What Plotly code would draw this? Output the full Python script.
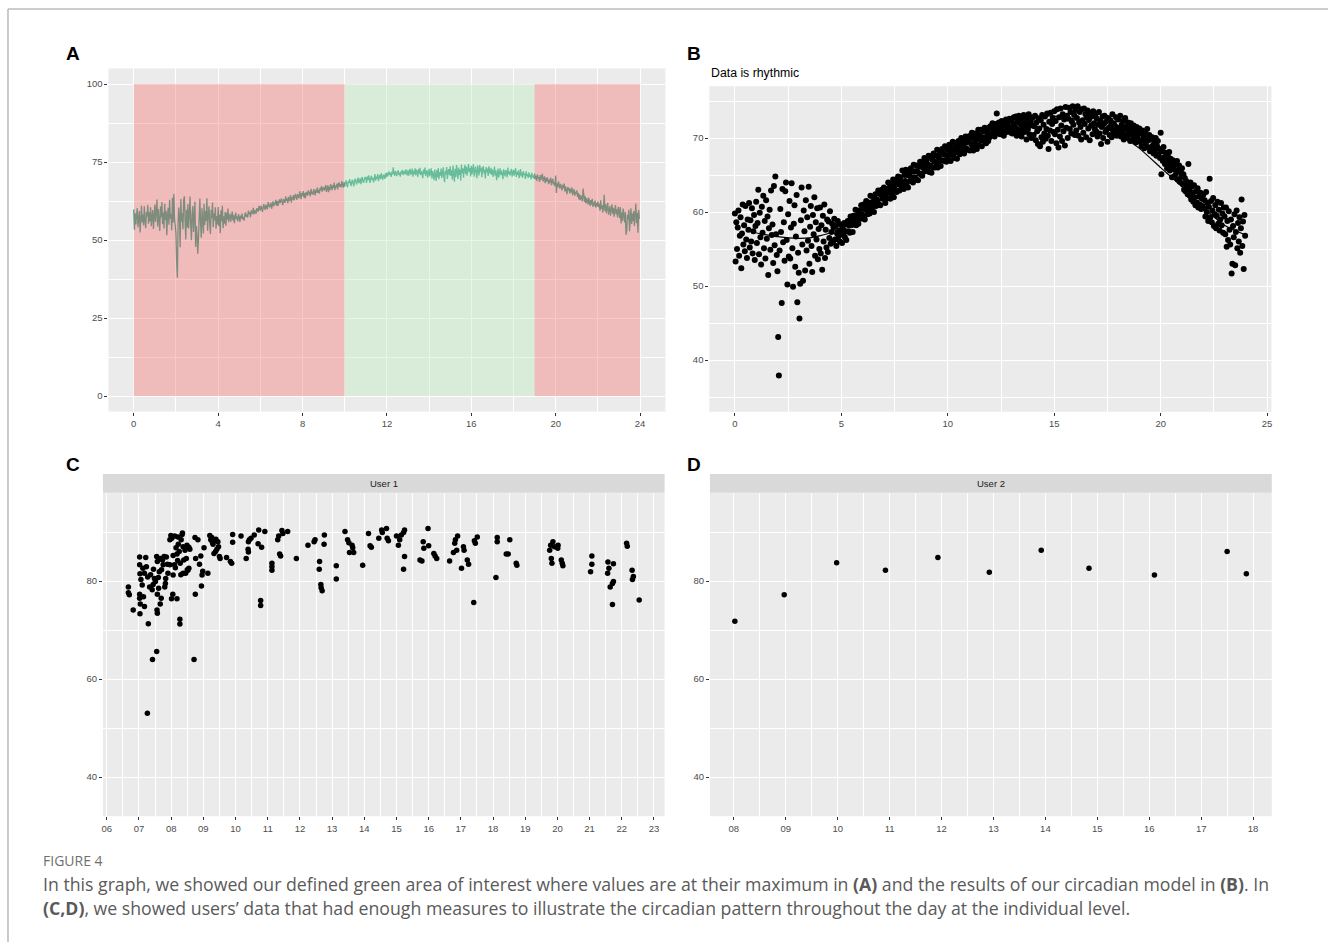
import plotly.graph_objects as go

W, H = 1329, 942

# ---------------- Panel A / B data: value over the day, one row per hour ----------------
hourly_values = [
    [59.8, 53.3, 58.6, 55.0, 57.9, 60.2, 54.1, 56.8, 59.3, 52.4, 57.1, 61.0, 55.6, 58.2, 54.7,
     60.8, 56.3, 53.8, 59.0, 57.6, 61.2, 55.2, 58.9, 56.0, 60.5, 54.4, 57.4, 59.6, 53.5, 58.1],
    [61.4, 55.8, 58.5, 63.0, 54.3, 59.9, 56.6, 52.9, 60.7, 57.2, 62.2, 55.1, 58.8, 53.7, 61.6,
     56.4, 59.4, 51.5, 57.8, 60.3, 54.9, 62.9, 56.9, 58.3, 53.1, 63.5, 55.5, 64.8, 57.0, 54.2],
    [52.0, 43.1, 37.9, 54.8, 60.4, 57.3, 47.7, 63.1, 55.9, 58.6, 53.4, 62.8, 64.0, 56.2, 50.2,
     59.7, 54.0, 61.5, 53.7, 57.9, 63.9, 55.1, 49.9, 58.4, 60.9, 52.6, 56.7, 62.3, 47.8, 54.5],
    [51.8, 45.6, 50.3, 58.9, 63.3, 55.6, 50.7, 60.2, 57.4, 52.1, 61.6, 54.8, 59.3, 56.1, 63.4,
     53.0, 58.0, 60.8, 55.4, 51.9, 59.6, 57.0, 62.0, 54.1, 58.6, 56.3, 60.5, 53.6, 57.7, 55.0],
    [60.6, 54.4, 58.2, 52.2, 59.5, 56.0, 61.0, 53.8, 57.6, 55.2, 59.0, 54.6, 58.7, 56.5, 60.1,
     55.7, 57.3, 58.4, 55.9, 57.9, 59.1, 56.3, 58.1, 55.4, 57.1, 58.8, 56.7, 57.5, 56.0, 58.3],
    [57.1, 55.8, 57.8, 56.9, 58.5, 56.6, 57.4, 56.2, 58.3, 58.8, 57.4, 58.2, 57.2, 59.4, 58.2,
     58.9, 57.3, 59.5, 58.3, 58.9, 60.3, 58.2, 59.6, 59.0, 58.4, 60.2, 59.6, 59.1, 60.9, 59.7],
    [59.4, 61.0, 60.4, 59.0, 60.8, 61.5, 60.2, 59.7, 61.3, 60.7, 59.8, 62.2, 61.3, 60.5, 61.0,
     62.0, 60.0, 61.6, 62.4, 60.8, 61.7, 61.5, 62.9, 61.0, 62.5, 60.9, 62.3, 63.0, 61.8, 62.3],
    [63.3, 62.0, 61.2, 63.1, 62.7, 61.9, 64.0, 62.6, 63.3, 61.8, 63.8, 62.5, 63.2, 64.4, 62.0,
     63.7, 63.0, 64.4, 62.7, 64.2, 64.8, 63.7, 62.9, 64.7, 64.2, 63.4, 65.6, 63.9, 63.1, 65.0],
    [64.2, 65.7, 63.6, 65.0, 63.3, 65.4, 64.9, 64.2, 65.9, 64.7, 65.5, 64.0, 66.4, 64.7, 65.5,
     64.5, 66.3, 65.5, 64.3, 66.2, 65.2, 66.8, 65.1, 66.1, 64.9, 66.7, 65.9, 67.3, 65.5, 66.6],
    [66.9, 65.8, 66.4, 67.6, 65.4, 66.3, 67.5, 65.3, 67.1, 66.0, 67.9, 66.8, 66.0, 67.6, 66.7,
     68.4, 66.0, 67.4, 66.9, 68.1, 66.2, 67.9, 68.5, 67.0, 67.9, 66.9, 68.9, 67.7, 66.8, 68.5],
    [67.1, 68.4, 69.1, 67.7, 66.9, 68.8, 68.2, 69.5, 67.7, 67.3, 68.6, 69.3, 68.1, 67.2, 69.2,
     69.6, 68.6, 67.8, 69.3, 70.0, 68.2, 68.7, 69.8, 67.9, 69.4, 70.2, 68.6, 68.4, 69.6, 70.2],
    [69.8, 68.3, 70.3, 69.2, 70.7, 68.8, 68.3, 69.9, 70.6, 69.2, 69.8, 68.5, 70.5, 71.1, 69.0,
     70.3, 69.7, 71.1, 68.9, 70.1, 70.9, 69.6, 71.4, 70.1, 69.3, 70.9, 70.6, 69.6, 71.4, 70.1],
    [71.6, 70.4, 71.2, 72.0, 70.8, 71.5, 70.2, 71.9, 71.0, 73.3, 71.4, 70.6, 72.1, 71.1, 70.5,
     71.8, 72.3, 70.9, 71.6, 70.3, 72.0, 71.3, 72.5, 70.8, 71.7, 72.2, 71.0, 72.6, 71.4, 70.7],
    [72.4, 70.6, 71.9, 72.8, 70.9, 71.5, 72.9, 70.3, 72.2, 71.1, 73.0, 70.7, 72.5, 71.8, 70.2,
     72.7, 71.3, 73.1, 70.8, 72.0, 71.6, 69.8, 72.6, 71.2, 73.2, 70.5, 71.9, 72.3, 70.0, 71.7],
    [72.8, 70.4, 71.6, 73.0, 69.7, 72.1, 70.9, 69.2, 72.6, 71.3, 68.9, 72.4, 70.1, 73.1, 69.5,
     71.8, 70.6, 72.9, 69.9, 71.2, 73.3, 70.3, 68.5, 72.2, 71.0, 73.4, 69.6, 71.9, 72.7, 70.8],
    [73.6, 70.5, 72.3, 69.3, 73.9, 71.1, 68.7, 72.8, 70.2, 74.0, 71.7, 69.6, 73.2, 70.9, 72.5,
     69.0, 74.2, 71.4, 73.0, 70.0, 72.6, 74.1, 71.2, 73.5, 70.6, 72.2, 74.3, 71.8, 73.1, 70.4],
    [73.8, 71.0, 72.7, 74.3, 70.3, 72.1, 73.5, 71.5, 69.8, 73.9, 72.4, 70.7, 74.0, 71.9, 73.2,
     70.1, 72.8, 73.7, 71.3, 72.5, 69.7, 73.4, 71.7, 72.9, 70.5, 73.6, 72.0, 71.2, 73.1, 70.9],
    [72.6, 70.2, 71.8, 73.5, 70.6, 72.3, 69.2, 71.5, 72.9, 70.0, 71.9, 73.0, 70.8, 72.2, 71.1,
     69.5, 72.7, 71.4, 70.4, 72.4, 71.7, 70.1, 73.2, 71.0, 72.0, 70.7, 71.6, 72.8, 70.3, 71.3],
    [72.5, 70.6, 71.4, 73.0, 70.2, 71.8, 70.9, 72.3, 69.8, 71.2, 72.7, 70.4, 71.6, 70.0, 72.1,
     70.8, 71.3, 69.6, 72.0, 70.5, 71.1, 69.9, 71.7, 70.3, 70.9, 69.4, 71.5, 70.1, 70.7, 69.7],
    [71.3, 69.5, 70.6, 68.9, 71.0, 69.8, 70.2, 68.6, 70.8, 69.3, 70.0, 71.2, 68.8, 69.7, 70.4,
     68.2, 69.9, 68.7, 70.1, 69.0, 67.9, 69.4, 68.4, 70.0, 67.6, 68.9, 69.6, 67.8, 68.5, 67.3],
    [70.7, 65.1, 68.2, 66.9, 68.8, 67.4, 66.5, 68.0, 67.0, 65.9, 67.7, 66.6, 68.1, 65.6, 67.2,
     66.2, 64.7, 67.0, 65.8, 66.7, 64.9, 66.4, 65.3, 66.9, 64.4, 65.7, 66.3, 64.1, 65.5, 64.8],
    [65.9, 63.8, 65.1, 63.0, 64.6, 62.8, 64.2, 63.5, 62.4, 66.5, 63.1, 62.2, 64.0, 61.7, 63.4,
     62.6, 61.4, 63.6, 62.0, 60.9, 62.8, 61.3, 63.2, 60.6, 62.1, 61.0, 62.6, 60.4, 61.8, 60.8],
    [62.3, 60.5, 61.6, 59.4, 62.7, 60.0, 61.2, 58.8, 60.7, 64.5, 59.3, 61.5, 58.6, 60.2, 61.9,
     58.1, 59.7, 60.9, 57.8, 59.5, 61.4, 58.4, 60.3, 57.5, 59.0, 61.2, 58.2, 59.8, 57.2, 60.6],
    [59.4, 57.0, 60.6, 55.3, 58.8, 56.2, 60.1, 57.6, 55.6, 59.0, 51.7, 53.0, 58.1, 56.6, 59.7,
     52.8, 57.3, 60.2, 55.1, 58.5, 56.0, 59.3, 54.5, 57.8, 61.7, 55.4, 58.7, 52.3, 59.6, 56.8],
]

# Panel A zones (hour boundaries)
zone_red_1 = [0, 10]
zone_green = [10, 19]
zone_red_2 = [19, 24]
zone_y = [0, 100]

# Panel B fitted circadian curve
fit_hours = [0.8, 1.5, 2.5, 3.5, 4.5, 5.0, 6.0, 7.0, 8.5, 10.0, 11.5, 13.0, 14.0, 15.3,
             16.5, 17.5, 18.3, 19.0, 20.0, 21.0, 22.0, 23.0, 23.9]
fit_values = [57.3, 56.9, 56.5, 56.5, 57.2, 57.9, 59.6, 61.3, 64.8, 68.0, 69.8, 71.5, 72.9, 72.9,
              72.2, 71.2, 70.0, 68.6, 66.0, 63.4, 60.6, 58.2, 57.0]

# Panel C: User 1
u1_hours = [
    6.67, 6.67, 6.70, 6.82, 7.02, 7.02, 7.03, 7.02, 7.02, 7.04, 7.03, 7.10, 7.14, 7.17, 7.21,
    7.23, 7.17, 7.29, 7.26, 7.42, 7.55, 7.33, 7.41, 7.45, 7.48, 7.51, 7.55, 7.57, 7.57, 7.56,
    7.57, 7.61, 7.63, 7.66, 7.69, 7.73, 7.75, 7.78, 7.80, 7.83, 7.82, 7.88, 7.90, 7.96, 7.96,
    7.99, 8.01, 8.05, 8.06, 8.06, 8.10, 8.11, 8.13, 8.18, 8.18, 8.21, 8.22, 8.27, 8.27, 8.28,
    8.25, 8.31, 8.34, 8.37, 8.37, 8.39, 8.43, 8.47, 8.49, 8.52, 8.55, 8.58, 8.71, 8.74, 8.75,
    8.76, 8.83, 8.88, 8.92, 8.94, 8.96, 8.98, 9.02, 9.14, 9.20, 9.23, 9.26, 9.30, 9.33, 9.35,
    9.39, 9.42, 9.45, 9.47, 9.50, 9.52, 9.72, 9.84, 9.88, 9.91, 9.91, 10.17, 10.33, 10.39, 10.40,
    10.40, 10.43, 10.48, 10.58, 10.70, 10.72, 10.78, 10.78, 10.81, 10.91, 11.13, 11.13, 11.13, 11.31, 11.34,
    11.37, 11.40, 11.44, 11.47, 11.62, 11.89, 12.25, 12.44, 12.47, 12.61, 12.60, 12.65, 12.66, 12.69, 12.76,
    12.75, 13.13, 13.13, 13.40, 13.48, 13.52, 13.54, 13.62, 13.64, 13.67, 13.95, 14.13, 14.18, 14.22, 14.45,
    14.54, 14.56, 14.69, 14.71, 14.75, 15.00, 15.06, 15.10, 15.15, 15.22, 15.25, 15.25, 15.22, 15.83, 15.85,
    15.73, 15.79, 15.98, 16.00, 16.16, 16.20, 16.25, 16.65, 16.77, 16.81, 16.83, 16.87, 16.90, 17.02, 17.08,
    17.10, 17.20, 17.24, 17.40, 17.42, 17.45, 17.51, 18.09, 18.13, 18.13, 18.41, 18.47, 18.52, 18.72, 18.74,
    19.76, 19.79, 19.81, 19.83, 19.86, 19.91, 20.01, 20.02, 20.12, 20.15, 20.17, 21.07, 21.07, 21.03, 21.57,
    21.60, 21.56, 21.64, 21.71, 21.74, 21.71, 21.74, 22.15, 22.17, 22.32, 22.36, 22.33, 22.54,
    7.06, 7.12, 7.27, 7.36, 7.44, 7.60, 7.67, 7.70, 7.85, 8.02, 8.15, 8.20, 8.30, 8.45, 8.35,
    8.50, 8.55, 9.38, 9.28,
]
u1_values = [
    78.8, 77.6, 77.2, 74.1, 84.9, 83.3, 81.5, 77.3, 76.5, 75.3, 73.3, 79.2, 76.8, 74.8, 84.8,
    82.9, 81.6, 71.3, 53.0, 64.0, 65.6, 78.8, 78.2, 82.4, 80.5, 79.9, 85.0, 84.0, 77.3, 74.1,
    73.4, 78.5, 81.9, 75.3, 76.5, 84.3, 83.3, 85.0, 78.8, 80.5, 79.5, 83.4, 81.6, 83.3, 88.4,
    89.3, 76.4, 77.3, 81.2, 85.2, 83.3, 89.2, 82.7, 76.4, 85.5, 89.0, 87.5, 72.2, 71.2, 83.6,
    86.0, 88.4, 89.5, 87.0, 81.6, 84.3, 86.3, 84.6, 87.3, 82.2, 82.6, 86.5, 64.0, 88.9, 77.3,
    84.6, 88.4, 83.4, 85.1, 79.0, 81.2, 82.0, 86.8, 81.6, 89.3, 88.4, 88.9, 87.5, 85.6, 88.2,
    88.5, 86.5, 88.0, 87.0, 85.0, 84.6, 84.8, 84.0, 83.6, 89.5, 87.9, 89.2, 84.6, 86.5, 85.9,
    88.0, 88.4, 88.7, 89.4, 87.6, 90.4, 76.0, 75.0, 86.9, 90.1, 83.6, 82.9, 82.2, 88.4, 89.2,
    85.5, 85.1, 90.3, 89.7, 90.1, 84.6, 87.3, 88.0, 88.4, 84.0, 82.4, 79.3, 78.6, 78.0, 89.4,
    87.5, 83.1, 80.4, 90.1, 88.4, 87.8, 85.8, 87.3, 86.8, 85.8, 83.2, 89.7, 87.2, 86.9, 88.7,
    90.4, 89.9, 90.7, 88.7, 88.2, 89.2, 87.3, 88.4, 89.4, 89.9, 90.4, 85.0, 82.4, 88.0, 86.7,
    84.3, 84.1, 90.7, 87.2, 85.6, 85.1, 84.6, 84.1, 85.8, 87.7, 88.4, 86.3, 89.2, 82.6, 87.0,
    86.3, 84.3, 83.4, 75.6, 88.2, 87.7, 89.0, 80.7, 88.9, 88.0, 85.5, 85.5, 88.4, 83.6, 83.2,
    86.3, 87.3, 84.6, 83.6, 88.0, 87.0, 86.7, 87.3, 84.3, 83.6, 83.1, 85.1, 83.4, 81.9, 83.9,
    82.6, 81.6, 78.8, 79.5, 79.9, 75.2, 83.5, 87.7, 87.1, 82.2, 80.9, 80.3, 76.1,
    80.3, 82.6, 80.8, 81.3, 79.3, 80.7, 84.6, 82.3, 84.9, 88.7, 86.8, 84.2, 81.3, 81.6, 89.8,
    82.3, 86.9, 86.0, 87.9,
]

# Panel D: User 2
u2_hours = [8.02, 8.97, 9.98, 10.92, 11.93, 12.92, 13.92, 14.84, 16.10, 17.50, 17.87]
u2_values = [71.8, 77.2, 83.7, 82.2, 84.8, 81.8, 86.3, 82.6, 81.2, 86.0, 81.5]

# tick labels
ab_hour_ticks = [0, 4, 8, 12, 16, 20, 24]
b_hour_ticks = [0, 5, 10, 15, 20, 25]
c_hour_ticks = list(range(6, 24))
c_hour_labels = ["%02d" % h for h in c_hour_ticks]
d_hour_ticks = list(range(8, 19))
d_hour_labels = ["%02d" % h for h in d_hour_ticks]

# ---------------- derived series ----------------
day_hours, day_values = [], []
for h, row in enumerate(hourly_values):
    n = len(row)
    for k, v in enumerate(row):
        day_hours.append(h + k / n)
        day_values.append(v)


def fx(p):
    return p / W


def fy(p):
    return 1 - p / H


TICKFONT = dict(family="Liberation Sans, Arial, sans-serif", size=9.5, color="#4D4D4D")


def axis(domain, rng, anchor, dtick=None, minor_dtick=None, tickvals=None, ticktext=None):
    d = dict(
        domain=domain, range=rng, anchor=anchor, showgrid=True, gridcolor="white", gridwidth=1.1,
        zeroline=False, showline=False, ticks="outside", ticklen=3, tickwidth=1,
        tickcolor="#333333", tickfont=TICKFONT,
        minor=dict(dtick=minor_dtick, tick0=0, showgrid=True, gridcolor="white", gridwidth=0.5, ticks=""),
    )
    if tickvals is not None:
        d.update(tickmode="array", tickvals=tickvals, ticktext=ticktext)
    else:
        d.update(tick0=0, dtick=dtick)
    return d


fig = go.Figure()

# A
fig.add_trace(go.Scatter(x=day_hours, y=day_values, mode="lines",
                         line=dict(color="rgb(45,157,132)", width=1.3),
                         xaxis="x", yaxis="y", showlegend=False, hoverinfo="skip"))
# B
fig.add_trace(go.Scatter(x=day_hours, y=day_values, mode="markers",
                         marker=dict(color="black", size=6, line=dict(width=0)),
                         xaxis="x2", yaxis="y2", showlegend=False))
fig.add_trace(go.Scatter(x=fit_hours, y=fit_values, mode="lines",
                         line=dict(color="black", width=1.2, shape="spline", smoothing=0.6),
                         xaxis="x2", yaxis="y2", showlegend=False))
# C
fig.add_trace(go.Scatter(x=u1_hours, y=u1_values, mode="markers",
                         marker=dict(color="black", size=5.5, line=dict(width=0)),
                         xaxis="x3", yaxis="y3", showlegend=False))
# D
fig.add_trace(go.Scatter(x=u2_hours, y=u2_values, mode="markers",
                         marker=dict(color="black", size=5.5, line=dict(width=0)),
                         xaxis="x4", yaxis="y4", showlegend=False))

A_X = [fx(107.6), fx(665.4)]
A_Y = [fy(411.6), fy(68.4)]
B_X = [fx(709.4), fx(1272.3)]
B_Y = [fy(411.8), fy(86.2)]
C_X = [fx(102.1), fx(664.6)]
CD_Y = [fy(816.2), fy(492.8)]
D_X = [fx(710.0), fx(1272.7)]

fig.update_layout(
    width=W, height=H, margin=dict(l=0, r=0, t=0, b=0),
    paper_bgcolor="white", plot_bgcolor="#EBEBEB", showlegend=False,
    xaxis=axis(A_X, [-1.2, 25.2], "y", dtick=4, minor_dtick=2, tickvals=ab_hour_ticks,
               ticktext=[str(t) for t in ab_hour_ticks]),
    yaxis=axis(A_Y, [-5, 105], "x", dtick=25, minor_dtick=12.5),
    xaxis2=axis(B_X, [-1.2, 25.2], "y2", dtick=5, minor_dtick=2.5, tickvals=b_hour_ticks,
                ticktext=[str(t) for t in b_hour_ticks]),
    yaxis2=axis(B_Y, [33.0, 77.0], "x2", dtick=10, minor_dtick=5),
    xaxis3=axis(C_X, [5.88, 23.33], "y3", minor_dtick=0.5, tickvals=c_hour_ticks, ticktext=c_hour_labels),
    yaxis3=axis(CD_Y, [32, 98], "x3", dtick=20, minor_dtick=10),
    xaxis4=axis(D_X, [7.54, 18.36], "y4", minor_dtick=0.5, tickvals=d_hour_ticks, ticktext=d_hour_labels),
    yaxis4=axis(CD_Y, [32, 98], "x4", dtick=20, minor_dtick=10),
)

shapes = []
for zone, col in [(zone_red_1, "rgba(245,115,115,0.4)"), (zone_green, "rgba(190,238,190,0.4)"),
                  (zone_red_2, "rgba(245,115,115,0.4)")]:
    shapes.append(dict(type="rect", xref="x", yref="y", x0=zone[0], x1=zone[1], y0=zone_y[0], y1=zone_y[1],
                       fillcolor=col, line=dict(width=0), layer="above"))
# facet strips
for xd in (C_X, D_X):
    shapes.append(dict(type="rect", xref="paper", yref="paper", x0=xd[0], x1=xd[1],
                       y0=fy(492.8), y1=fy(474), fillcolor="#D9D9D9", line=dict(width=0), layer="below"))
# frame lines
shapes.append(dict(type="line", xref="paper", yref="paper", x0=fx(7), x1=1, y0=fy(9), y1=fy(9),
                   line=dict(color="#BDBDBD", width=1.6)))
shapes.append(dict(type="line", xref="paper", yref="paper", x0=fx(7), x1=fx(7), y0=fy(9), y1=0,
                   line=dict(color="#BDBDBD", width=1.6)))
fig.update_layout(shapes=shapes)

ann = []
LETTER = dict(family="Liberation Sans, Arial, sans-serif", size=19, color="black")
for txt, x, y in [("A", 72, 54), ("B", 694, 54), ("C", 72, 464), ("D", 694, 464)]:
    ann.append(dict(text="<b>%s</b>" % txt, x=fx(x), y=fy(y), xref="paper", yref="paper",
                    showarrow=False, xanchor="center", yanchor="middle", font=LETTER))
ann.append(dict(text="Data is rhythmic", x=fx(709), y=fy(73), xref="paper", yref="paper",
                showarrow=False, xanchor="left", yanchor="middle",
                font=dict(family="Liberation Sans, Arial, sans-serif", size=12.3, color="black")))
for label, xd in [("User 1", C_X), ("User 2", D_X)]:
    ann.append(dict(text=label, x=(xd[0] + xd[1]) / 2, y=fy(483.4), xref="paper", yref="paper",
                    showarrow=False, xanchor="center", yanchor="middle",
                    font=dict(family="Liberation Sans, Arial, sans-serif", size=9.5, color="#1A1A1A")))
CAP = "Open Sans, Noto Sans, sans-serif"
ann.append(dict(text="FIGURE 4", x=fx(40), y=fy(860), xref="paper", yref="paper", showarrow=False,
                xanchor="left", yanchor="middle", font=dict(family=CAP, size=14, color="#707070")))
ann.append(dict(text="In this graph, we showed our defined green area of interest where values are at their maximum in "
                     "<b>(A)</b> and the results of our circadian model in <b>(B)</b>. In",
                x=fx(40), y=fy(884), xref="paper", yref="paper", showarrow=False,
                xanchor="left", yanchor="middle", font=dict(family=CAP, size=17.7, color="#5A5A5A")))
ann.append(dict(text="<b>(C,D)</b>, we showed users’ data that had enough measures to illustrate the circadian "
                     "pattern throughout the day at the individual level.",
                x=fx(40), y=fy(908), xref="paper", yref="paper", showarrow=False,
                xanchor="left", yanchor="middle", font=dict(family=CAP, size=17.7, color="#5A5A5A")))
fig.update_layout(annotations=ann)

fig.write_html("out.html", config={"displayModeBar": False},
               post_script="document.body.style.margin='0';document.body.style.overflow='hidden';")
